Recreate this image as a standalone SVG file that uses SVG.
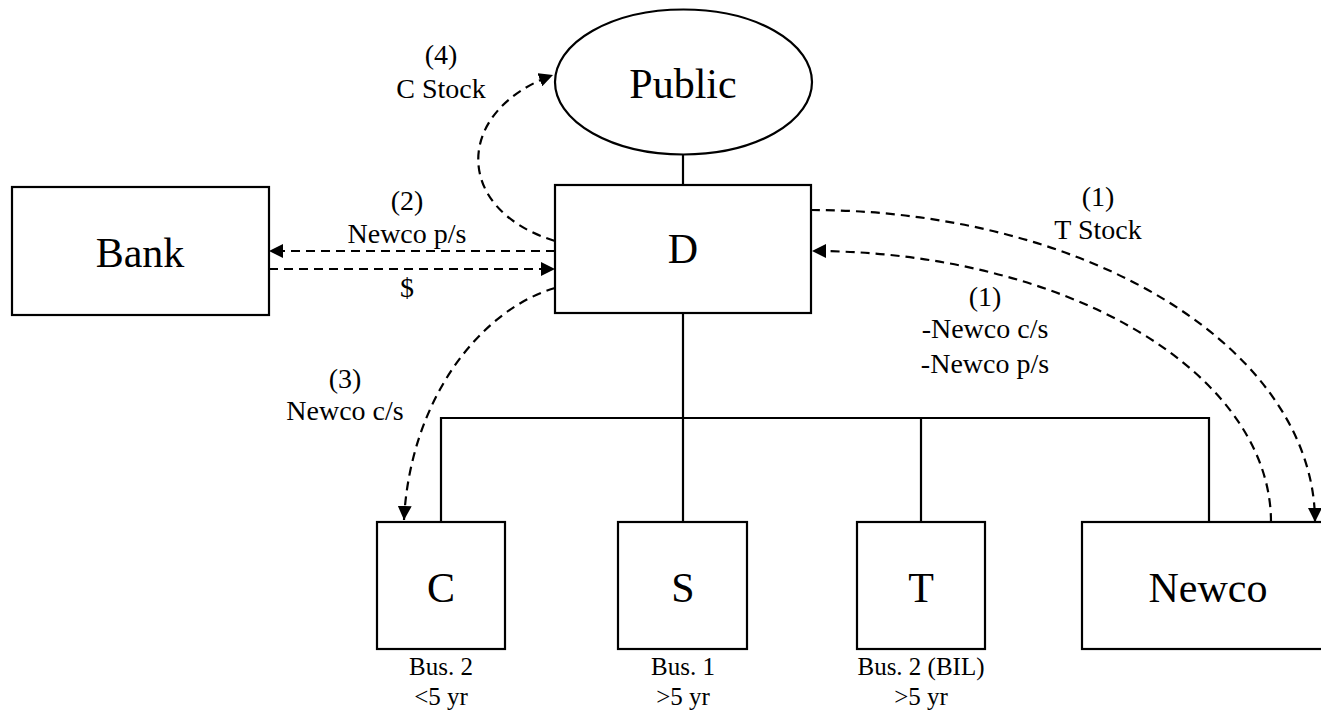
<svg xmlns="http://www.w3.org/2000/svg" width="1321" height="713" viewBox="0 0 1321 713">
<style>
.box{fill:#fff;stroke:#000;stroke-width:2.2}
.ln{fill:none;stroke:#000;stroke-width:2.2}
.dash{fill:none;stroke:#000;stroke-width:2.2;stroke-dasharray:9 6}
.big{font-family:"Liberation Serif","Times New Roman",serif;font-size:42px;text-anchor:middle;fill:#000}
.lbl{font-family:"Liberation Serif","Times New Roman",serif;font-size:28px;text-anchor:middle;fill:#000}
.sub{font-family:"Liberation Serif","Times New Roman",serif;font-size:25px;text-anchor:middle;fill:#000}
</style>
<defs>
<marker id="ah" markerUnits="userSpaceOnUse" markerWidth="16" markerHeight="14" refX="14" refY="7" orient="auto">
<path d="M0,0 L14,7 L0,14 Z" fill="#000"/>
</marker>
</defs>
<rect width="1321" height="713" fill="#fff"/>
<g id="connectors">
<line class="ln" x1="683" y1="154" x2="683" y2="185"/>
<line class="ln" x1="683" y1="313" x2="683" y2="522"/>
<polyline class="ln" points="441,522 441,418 1209,418 1209,522"/>
<line class="ln" x1="921" y1="418" x2="921" y2="522"/>
<line class="dash" x1="555" y1="251" x2="269" y2="251" marker-end="url(#ah)"/>
<line class="dash" x1="269" y1="269" x2="555" y2="269" marker-end="url(#ah)"/>
<path class="dash" d="M555,241 C453,210 453,111 553,75" marker-end="url(#ah)"/>
<path class="dash" d="M555,288 C480,310 410,400 404,520" marker-end="url(#ah)"/>
<path class="dash" d="M811,210 A504,312 0 0 1 1315,522" marker-end="url(#ah)"/>
<path class="dash" d="M1271,522 A459,271 0 0 0 812,251" marker-end="url(#ah)"/>
</g>
<g id="node-public">
<ellipse class="box" cx="683.5" cy="82" rx="128.5" ry="72.5"/>
<text class="big" x="683" y="98">Public</text>
</g>
<g id="node-d">
<rect class="box" x="555" y="185" width="256" height="128"/>
<text class="big" x="683" y="263">D</text>
</g>
<g id="node-bank">
<rect class="box" x="12" y="187" width="257" height="128"/>
<text class="big" x="140" y="267">Bank</text>
</g>
<g id="node-c">
<rect class="box" x="377" y="522" width="128" height="127"/>
<text class="big" x="441" y="602">C</text>
<text class="sub" x="441" y="675">Bus. 2</text>
<text class="sub" x="441" y="705">&lt;5 yr</text>
</g>
<g id="node-s">
<rect class="box" x="618" y="522" width="129" height="127"/>
<text class="big" x="683" y="602">S</text>
<text class="sub" x="683" y="675">Bus. 1</text>
<text class="sub" x="683" y="705">&gt;5 yr</text>
</g>
<g id="node-t">
<rect class="box" x="857" y="522" width="128" height="127"/>
<text class="big" x="921" y="602">T</text>
<text class="sub" x="921" y="675">Bus. 2 (BIL)</text>
<text class="sub" x="921" y="705">&gt;5 yr</text>
</g>
<g id="node-newco">
<rect class="box" x="1082" y="522" width="254" height="127"/>
<text class="big" x="1208" y="602">Newco</text>
</g>
<g id="labels">
<text class="lbl" x="441" y="64">(4)</text>
<text class="lbl" x="441" y="98">C Stock</text>
<text class="lbl" x="407" y="210">(2)</text>
<text class="lbl" x="407" y="243">Newco p/s</text>
<text class="lbl" x="407" y="297">$</text>
<text class="lbl" x="345" y="388">(3)</text>
<text class="lbl" x="345" y="420">Newco c/s</text>
<text class="lbl" x="1098" y="206">(1)</text>
<text class="lbl" x="1098" y="239">T Stock</text>
<text class="lbl" x="985" y="306">(1)</text>
<text class="lbl" x="985" y="338">-Newco c/s</text>
<text class="lbl" x="985" y="373">-Newco p/s</text>
</g>
</svg>
